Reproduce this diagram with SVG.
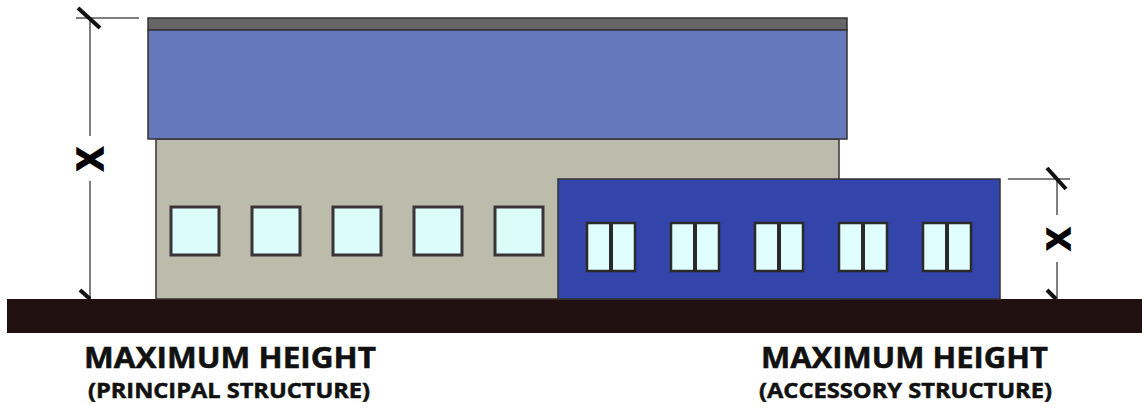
<svg xmlns="http://www.w3.org/2000/svg" width="1142" height="411" viewBox="0 0 1142 411">
<style>
.edge{stroke:#333;stroke-width:2;fill:none}
.tick{stroke:#111;stroke-width:4;stroke-linecap:butt}
.ext{stroke:#555;stroke-width:1.5}
.winP{fill:#dcfcfc;stroke:#3a3438;stroke-width:3}
.winA{fill:#e0fefe;stroke:#2a2a2a;stroke-width:2.5}
.mull{stroke:#2a2a2a;stroke-width:4}
.lbl{font-family:"Open Sans","DejaVu Sans",sans-serif;font-weight:bold;fill:#111;stroke:#111;stroke-width:0.5}
.dimx{font-family:"Open Sans","DejaVu Sans",sans-serif;font-weight:bold;fill:#000;stroke:#000;stroke-width:1.5}
</style>
<g id="ground"><rect x="7" y="299" width="1135" height="34" fill="#201010"/></g>
<g id="principal">
<rect x="156" y="139" width="683" height="160" fill="#bcbcac" stroke="#3a3030" stroke-width="1.5"/>
<rect x="148" y="18" width="699" height="12" fill="#666666" stroke="#333" stroke-width="1.5"/>
<rect x="148" y="30" width="699" height="109" fill="#6677bb" stroke="#333" stroke-width="1.5"/>
<rect class="winP" x="171" y="207" width="48" height="48"/>
<rect class="winP" x="252" y="207" width="48" height="48"/>
<rect class="winP" x="333" y="207" width="48" height="48"/>
<rect class="winP" x="414" y="207" width="48" height="48"/>
<rect class="winP" x="495" y="207" width="48" height="48"/>
</g>
<g id="accessory">
<rect x="558" y="179" width="442" height="120" fill="#3344aa" stroke="#333" stroke-width="1.5"/>
<g id="awin1"><rect class="winA" x="587" y="223" width="48" height="48"/><line class="mull" x1="611" y1="223" x2="611" y2="271"/></g>
<g id="awin2"><rect class="winA" x="671" y="223" width="48" height="48"/><line class="mull" x1="695" y1="223" x2="695" y2="271"/></g>
<g id="awin3"><rect class="winA" x="755" y="223" width="48" height="48"/><line class="mull" x1="779" y1="223" x2="779" y2="271"/></g>
<g id="awin4"><rect class="winA" x="839" y="223" width="48" height="48"/><line class="mull" x1="863" y1="223" x2="863" y2="271"/></g>
<g id="awin5"><rect class="winA" x="923" y="223" width="48" height="48"/><line class="mull" x1="947" y1="223" x2="947" y2="271"/></g>
</g>
<g id="connectors">
<line class="ext" x1="76" y1="18" x2="139" y2="18"/>
<line class="ext" x1="90" y1="18" x2="90" y2="136"/>
<line class="ext" x1="90" y1="181" x2="90" y2="299"/>
<line class="tick" x1="78" y1="8" x2="100" y2="28"/>
<line class="tick" x1="80" y1="290" x2="90" y2="299"/>
<line class="ext" x1="1008" y1="179" x2="1070" y2="179"/>
<line class="ext" x1="1057" y1="179" x2="1057" y2="215"/>
<line class="ext" x1="1057" y1="262" x2="1057" y2="299"/>
<line class="tick" x1="1047" y1="168" x2="1066" y2="189"/>
<line class="tick" x1="1047" y1="290" x2="1056" y2="299"/>
</g>
<g id="dim-labels">
<text class="dimx" x="0" y="0" font-size="35" text-anchor="middle" transform="translate(103,159) rotate(-90)">X</text>
<text class="dimx" x="0" y="0" font-size="33" text-anchor="middle" transform="translate(1070,239) rotate(-90)">X</text>
</g>
<g id="label-principal">
<text class="lbl" x="84" y="368" font-size="28" textLength="292" lengthAdjust="spacingAndGlyphs">MAXIMUM HEIGHT</text>
<text class="lbl" x="88" y="398" font-size="21" textLength="282" lengthAdjust="spacingAndGlyphs">(PRINCIPAL STRUCTURE)</text>
</g>
<g id="label-accessory">
<text class="lbl" x="761" y="368" font-size="28" textLength="287" lengthAdjust="spacingAndGlyphs">MAXIMUM HEIGHT</text>
<text class="lbl" x="759" y="398" font-size="21" textLength="293" lengthAdjust="spacingAndGlyphs">(ACCESSORY STRUCTURE)</text>
</g>
</svg>
